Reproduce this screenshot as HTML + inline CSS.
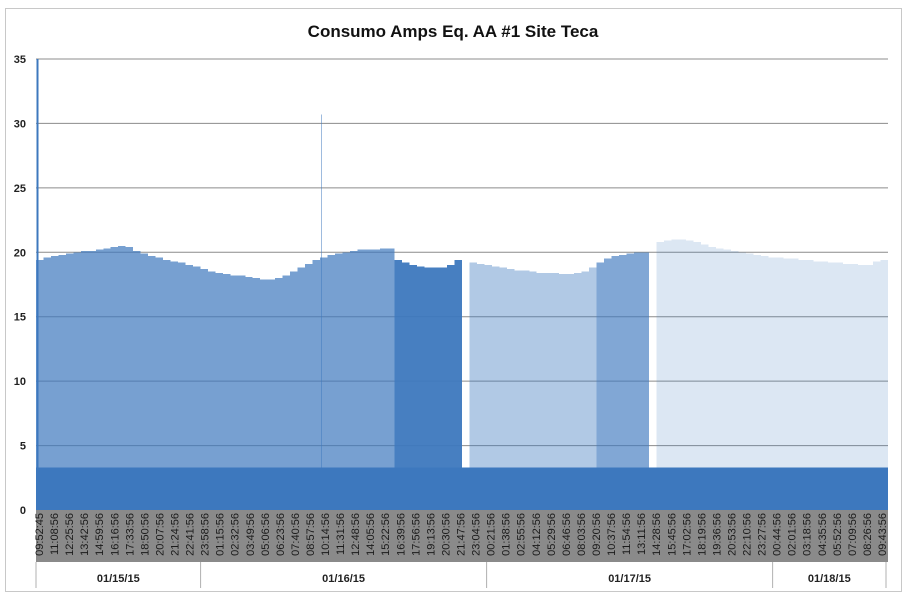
<!DOCTYPE html>
<html><head><meta charset="utf-8"><style>
body{margin:0;background:#fff;font-family:"Liberation Sans",sans-serif}
</style></head><body>
<svg id="c" width="912" height="602" xmlns="http://www.w3.org/2000/svg">
<rect x="5.5" y="8.5" width="896" height="583" fill="#fff" stroke="#c8c8c8"/>
<text x="453" y="37" text-anchor="middle" font-size="17" font-weight="bold" fill="#111">Consumo Amps Eq. AA #1 Site Teca</text>
<g id="grid"></g><g id="marks" shape-rendering="crispEdges"></g><g id="axes"></g>
</svg>
<script>
const peaks=[19.4,19.6,19.7,19.8,19.9,20.0,20.1,20.1,
20.2,20.3,20.4,20.5,20.4,20.1,19.9,19.7,
19.6,19.4,19.3,19.2,19.0,18.9,18.7,18.5,
18.4,18.3,18.2,18.2,18.1,18.0,17.9,17.9,
18.0,18.2,18.5,18.8,19.1,19.4,19.6,19.8,
19.9,20.0,20.1,20.2,20.2,20.2,20.3,20.3,
19.4,19.2,19.0,18.9,18.8,18.8,18.8,19.0,
19.4,0,
19.2,19.1,19.0,18.9,18.8,18.7,18.6,18.6,
18.5,18.4,18.4,18.4,18.3,18.3,18.4,18.5,
18.8,19.2,19.5,19.7,19.8,19.9,20.0,
20.0,0,
20.8,20.9,21.0,21.0,20.9,20.8,20.6,20.4,
20.3,20.2,20.1,20.0,19.9,19.8,19.7,19.6,
19.6,19.5,19.5,19.4,19.4,19.3,19.3,19.2,
19.2,19.1,19.1,19.0,19.0,19.3,19.4];
const density=[];
const densitySegments=[[48,0.7],[9,0.95],[1,0],[17,0.4],[7,0.65],[1,0],[31,0.18]];
densitySegments.forEach(s=>{for(let k=0;k<s[0];k++)density.push(s[1]);});
const baseline=3.3;
const outlierIdx=[0,38];
const outlierVal=[35,30.7];
const yTicks=[0,5,10,15,20,25,30,35];
const timeLabels=["09:52:45","11:08:56","12:25:56","13:42:56","14:59:56","16:16:56","17:33:56","18:50:56","20:07:56","21:24:56","22:41:56","23:58:56","01:15:56","02:32:56","03:49:56","05:06:56","06:23:56","07:40:56","08:57:56","10:14:56","11:31:56","12:48:56","14:05:56","15:22:56","16:39:56","17:56:56","19:13:56","20:30:56","21:47:56","23:04:56","00:21:56","01:38:56","02:55:56","04:12:56","05:29:56","06:46:56","08:03:56","09:20:56","10:37:56","11:54:56","13:11:56","14:28:56","15:45:56","17:02:56","18:19:56","19:36:56","20:53:56","22:10:56","23:27:56","00:44:56","02:01:56","03:18:56","04:35:56","05:52:56","07:09:56","08:26:56","09:43:56"];
const dates=["01/15/15","01/16/15","01/17/15","01/18/15"];
const dateStart=[0,11,30,49];
const dateEnd=[11,30,49,57];

const NS="http://www.w3.org/2000/svg";
const X0=36,X1=888,Y0=510,YT=59,YMAX=35;
const n=peaks.length,w=(X1-X0)/n;
const y=v=>Y0-(v/YMAX)*(Y0-YT);
const xs=i=>X0+i*w;
const lx=i=>39+i*(882-39)/(timeLabels.length-1);
function mk(tag,attrs,parent){const e=document.createElementNS(NS,tag);for(const k in attrs)e.setAttribute(k,attrs[k]);document.getElementById(parent).appendChild(e);return e;}
yTicks.forEach(t=>{
 const g=mk('line',{x1:X0,x2:X1,y1:y(t),y2:y(t),stroke:'#8c8c8c','stroke-width':1},'grid');
 
 
 const tx=mk('text',{x:26,y:y(t)+4,'text-anchor':'end','font-size':11,'font-weight':'bold',fill:'#222'},'axes');
 tx.textContent=t;
 
 
});
for(let i=0;i<n;i++){
 if(peaks[i]>0&&density[i]>0){
  const r=mk('rect',{x:xs(i),y:y(peaks[i]),width:w,height:y(baseline)-y(peaks[i]),fill:'#3d78be','fill-opacity':density[i]},'marks');
  
  
 }
}
for(let j=0;j<outlierIdx.length;j++){
 const l=mk('line',{x1:xs(outlierIdx[j])+1.5,x2:xs(outlierIdx[j])+1.5,y1:y(outlierVal[j]),y2:y(baseline),stroke:'#3d78be','stroke-width':j==0?2:1,'stroke-opacity':j==0?1:0.5},'marks');
 
 
}
const b=mk('rect',{x:X0,y:y(baseline),width:X1-X0,height:Y0-y(baseline),fill:'#3d78be'},'marks');


const band=mk('rect',{x:X0,y:Y0,width:X1-X0,height:52,fill:'#8a8a8a'},'axes');


timeLabels.forEach((t,i)=>{
 const tx=mk('text',{x:0,y:0,'text-anchor':'end','font-size':11,fill:'#1a1a1a',transform:`translate(${lx(i)+4},${Y0+3}) rotate(-90)`},'axes');
 tx.textContent=t;
 
 
});
const sepX=i=>i===0?36:(i>=timeLabels.length?886:lx(i)-4);
dates.forEach((d,k)=>{
 const l=mk('line',{x1:sepX(dateStart[k]),x2:sepX(dateStart[k]),y1:562,y2:588,stroke:'#b0b0b0'},'axes');
 
 
 const tx=mk('text',{x:(sepX(dateStart[k])+sepX(dateEnd[k]))/2,y:582,'text-anchor':'middle','font-size':11,'font-weight':'bold',fill:'#222'},'axes');
 tx.textContent=d;
 
 
});
const le=mk('line',{x1:886,x2:886,y1:562,y2:588,stroke:'#b0b0b0'},'axes');


</script>
</body></html>
